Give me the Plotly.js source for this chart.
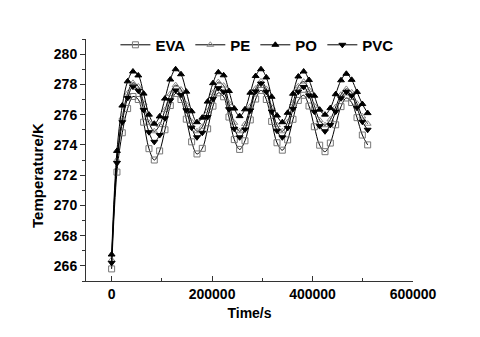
<!DOCTYPE html>
<html><head><meta charset="utf-8">
<script src="https://cdn.plot.ly/plotly-3.0.1.min.js"></script>
<style>html,body{margin:0;padding:0;background:#fff}#chart{width:480px;height:337px}</style>
</head><body><div id="chart"></div>
<script>
const time = [0, 10620, 21240, 31860, 42480, 53100, 63720, 74340, 84960, 95580, 106200, 116820, 127440, 138060, 148680, 159300, 169920, 180540, 191160, 201780, 212400, 223020, 233640, 244260, 254880, 265500, 276120, 286740, 297360, 307980, 318600, 329220, 339840, 350460, 361080, 371700, 382320, 392940, 403560, 414180, 424800, 435420, 446040, 456660, 467280, 477900, 488520, 499140, 509760];
const eva = [265.8, 272.2, 274.8, 276.4, 277.2, 277.0, 275.5, 273.75, 273.0, 273.6, 275.0, 276.6, 277.4, 277.0, 275.7, 274.2, 273.4, 273.77, 275.06, 276.56, 277.44, 277.18, 275.84, 274.35, 273.7, 274.27, 275.65, 277.03, 277.6, 277.0, 275.55, 274.14, 273.65, 274.33, 275.69, 276.94, 277.28, 276.57, 275.2, 273.98, 273.55, 274.12, 275.33, 276.53, 277.1, 276.8, 275.8, 274.65, 274.0];
const pe = [266.4, 273.0, 275.8, 277.4, 278.1, 277.86, 276.75, 275.46, 274.9, 275.31, 276.3, 277.37, 277.95, 277.66, 276.66, 275.53, 274.9, 275.2, 276.24, 277.44, 278.15, 277.92, 276.76, 275.46, 274.9, 275.38, 276.55, 277.72, 278.2, 277.7, 276.48, 275.31, 274.9, 275.51, 276.75, 277.87, 278.18, 277.63, 276.58, 275.63, 275.3, 275.68, 276.5, 277.32, 277.7, 277.47, 276.73, 275.88, 275.4];
const po = [266.75, 273.6, 276.6, 278.2, 278.85, 278.59, 277.39, 276.0, 275.4, 275.88, 277.06, 278.32, 279.0, 278.67, 277.52, 276.22, 275.5, 275.8, 276.86, 278.08, 278.8, 278.6, 277.56, 276.4, 275.9, 276.35, 277.45, 278.55, 279.0, 278.46, 277.18, 275.94, 275.5, 276.12, 277.38, 278.52, 278.85, 278.29, 277.25, 276.33, 276.0, 276.43, 277.35, 278.27, 278.7, 278.3, 277.5, 276.7, 276.1];
const pvc = [266.2, 272.8, 275.5, 277.1, 277.85, 277.58, 276.31, 274.84, 274.2, 274.65, 275.76, 276.95, 277.6, 277.31, 276.29, 275.14, 274.5, 274.8, 275.84, 277.04, 277.75, 277.52, 276.36, 275.06, 274.5, 275.02, 276.28, 277.53, 278.05, 277.51, 276.2, 274.94, 274.5, 275.12, 276.38, 277.52, 277.83, 277.27, 276.2, 275.24, 274.9, 275.32, 276.2, 277.08, 277.5, 277.25, 276.45, 275.53, 275.0];
const names = ['EVA', 'PE', 'PO', 'PVC'];
const yTickVals = [266, 268, 270, 272, 274, 276, 278, 280];
const xTickVals = [0, 200000, 400000, 600000];

const series = [eva, pe, po, pvc];
const symbols = ['square-open', 'triangle-up-open', 'triangle-up', 'triangle-down'];
const mColors = ['#777', '#888', '#000', '#000'];
const traces = series.map((s, i) => ({
  x: time, y: s, name: names[i], type: 'scatter', mode: 'lines+markers',
  line: {color: '#000', width: 1, shape: 'spline', smoothing: 1},
  marker: {symbol: symbols[i], size: 6, color: mColors[i], line: {color: mColors[i], width: 1}}
}));
const fam = 'Liberation Sans, Arial, sans-serif';
const fontTick = {family: fam, size: 14, color: '#000', weight: 'bold'};
const fontLeg = {family: fam, size: 15, color: '#000', weight: 'bold'};
const fontX = {family: fam, size: 14, color: '#000', weight: 'bold'};
const fontY = {family: fam, size: 15, color: '#000', weight: 'bold'};
const layout = {
  width: 480, height: 337,
  margin: {l: 86, r: 67, t: 39, b: 56},
  paper_bgcolor: '#fff', plot_bgcolor: '#fff',
  showlegend: true,
  legend: {orientation: 'h', x: 0.09, xanchor: 'left', y: 0.975, yanchor: 'middle',
           font: fontLeg, bgcolor: 'rgba(0,0,0,0)', borderwidth: 0, tracegroupgap: 0},
  xaxis: {range: [-51000, 600000], tickvals: xTickVals, tickformat: 'd', showgrid: false, zeroline: false,
          showline: true, linecolor: '#333', linewidth: 1, ticks: 'inside', ticklen: 5, tickcolor: '#333',
          minor: {dtick: 100000, tick0: 0, ticks: 'inside', ticklen: 3, tickcolor: '#333'},
          tickfont: fontTick, title: {text: 'Time/s', font: fontX, standoff: 7}},
  yaxis: {range: [265, 281], tickvals: yTickVals, showgrid: false, zeroline: false,
          showline: true, linecolor: '#333', linewidth: 1, ticks: 'outside', ticklen: 5, tickcolor: '#333',
          minor: {dtick: 1, tick0: 265, ticks: 'outside', ticklen: 3, tickcolor: '#333'},
          tickfont: fontTick},
  annotations: [{text: 'Temperature/K', xref: 'paper', yref: 'paper', x: -0.15, y: 0.438,
                 xanchor: 'center', yanchor: 'middle', textangle: -90, showarrow: false, font: fontY}]
};
Plotly.newPlot('chart', traces, layout, {staticPlot: true, displayModeBar: false});
</script></body></html>
